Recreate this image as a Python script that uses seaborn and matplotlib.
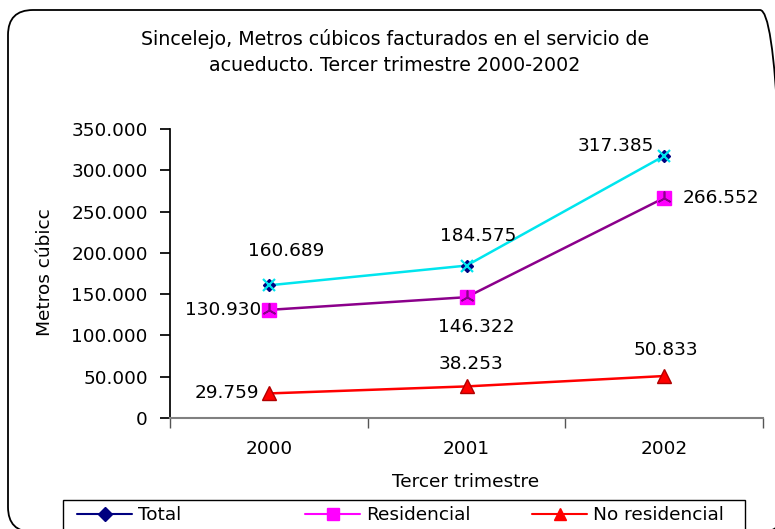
import numpy as np
import pandas as pd
import matplotlib
matplotlib.use("Agg")
import matplotlib.pyplot as plt
import seaborn as sns
from matplotlib.lines import Line2D
from matplotlib.patches import FancyBboxPatch, Rectangle

# ==========================================
# 1. Datos
# ==========================================
anios = ["2000", "2001", "2002"]
total = [160689, 184575, 317385]
residencial = [130930, 146322, 266552]
no_residencial = [29759, 38253, 50833]
y_ticks = [0, 50000, 100000, 150000, 200000, 250000, 300000, 350000]

df = pd.DataFrame({"pos": np.arange(len(anios)), "anio": anios,
                   "Total": total, "Residencial": residencial,
                   "No residencial": no_residencial})

def miles(v):
    return f"{v:,.0f}".replace(",", ".")

# ==========================================
# 2. Estilo
# ==========================================
sns.set_theme(style="white")
plt.rcParams["font.family"] = ["DejaVu Sans"]
plt.rcParams["text.color"] = "black"
plt.rcParams["xtick.color"] = "black"
plt.rcParams["ytick.color"] = "black"
FS = 13.3

fig = plt.figure(figsize=(7.75, 5.29), dpi=100)
ax = fig.add_axes([170 / 775, 111 / 529, 593 / 775, 289 / 529])

# marco redondeado del grafico (en pulgadas)
marco = FancyBboxPatch((0.08, -0.03), 7.77, 5.22, boxstyle="round,pad=0,rounding_size=0.25",
                       transform=fig.dpi_scale_trans, fill=False, lw=1.3, ec="black")
fig.patches.append(marco)

# ==========================================
# 3. Series
# ==========================================
sns.lineplot(data=df, x="pos", y="Total", ax=ax, color="#00e5ee", lw=1.8)
sns.lineplot(data=df, x="pos", y="Residencial", ax=ax, color="#8b008b", lw=1.8)
sns.lineplot(data=df, x="pos", y="No residencial", ax=ax, color="#ff0000", lw=1.8)

# marcadores
ax.plot(df["pos"], df["Total"], ls="none", marker="D", ms=6, color="#000080", zorder=4)
ax.plot(df["pos"], df["Total"], ls="none", marker="x", ms=9, mew=1.6, color="#00e5ee", zorder=5)
ax.plot(df["pos"], df["Residencial"], ls="none", marker="s", ms=10, color="#ff00ff", zorder=4)
ax.plot(df["pos"], df["Residencial"], ls="none", marker=(3, 2, 0), ms=10, mew=1.2, color="#8b008b", zorder=5)
ax.plot(df["pos"], df["No residencial"], ls="none", marker="^", ms=10, color="#ff0000",
        mec="#b00000", zorder=4)

# etiquetas de datos (desplazamiento en pixeles)
desp_total = [(17, 34, "center"), (12, 30, "center"), (-10, 10, "right")]
desp_res = [(-8, 0, "right"), (10, -30, "center"), (18, 0, "left")]
desp_nores = [(-10, 0, "right"), (4, 22, "center"), (2, 26, "center")]
for col, desp in [("Total", desp_total), ("Residencial", desp_res), ("No residencial", desp_nores)]:
    for i, v in enumerate(df[col]):
        dx, dy, ha = desp[i]
        ax.annotate(miles(v), (i, v), xytext=(dx, dy), textcoords="offset pixels",
                    ha=ha, va="center", fontsize=FS, color="black")

# ==========================================
# 4. Ejes
# ==========================================
ax.set_xlim(-0.5, 2.5)
ax.set_ylim(0, 350000)
ax.set_yticks(y_ticks)
ax.set_yticklabels([miles(v) for v in y_ticks], fontsize=FS)
ax.set_xticks(df["pos"])
ax.set_xticklabels(anios, fontsize=FS)
ax.set_xticks([-0.5, 0.5, 1.5, 2.5], minor=True)
ax.tick_params(axis="x", which="major", length=0, pad=16)
ax.tick_params(axis="x", which="minor", length=7, direction="out", color="#555555", bottom=True)
ax.tick_params(axis="y", length=7, direction="out", color="black", left=True, pad=9)
ax.set_xlabel("")
ax.set_ylabel("")
for s in ["top", "right"]:
    ax.spines[s].set_visible(False)
ax.spines["left"].set_color("black")
ax.spines["bottom"].set_color("#808080")
ax.spines["bottom"].set_linewidth(1.5)
ax.patch.set_alpha(0)

fig.text(395 / 775, 1 - 52 / 529, "Sincelejo, Metros cúbicos facturados en el servicio de\nacueducto. Tercer trimestre 2000-2002",
         ha="center", va="center", fontsize=FS + 0.4, linespacing=1.45)
fig.text(45 / 775, 1 - 272 / 529, "Metros cúbicc", rotation=90, ha="center", va="center", fontsize=FS)
fig.text(466 / 775, 1 - 482 / 529, "Tercer trimestre", ha="center", va="center", fontsize=FS)

# ==========================================
# 5. Leyenda (tres columnas de igual ancho, como en Excel)
# ==========================================
fig.patches.append(Rectangle((63 / 775, -0.02), 682 / 775, 1 - 500 / 529 + 0.02,
                             transform=fig.transFigure, fill=False, ec="black", lw=1.0))
handles = [
    Line2D([], [], color="#000080", marker="D", ms=7, lw=1.5),
    Line2D([], [], color="#ff00ff", marker="s", ms=8, lw=1.5),
    Line2D([], [], color="#ff0000", marker="^", ms=8, lw=1.5),
]
nombres = ["Total", "Residencial", "No residencial"]
x_col = [77, 305, 532]
for h, n, x0 in zip(handles, nombres, x_col):
    lg = fig.legend([h], [n], loc="center left", bbox_to_anchor=(x0 / 775, 1 - 515 / 529),
                    frameon=False, fontsize=FS, handlelength=3.0, handletextpad=0.3,
                    borderpad=0, borderaxespad=0)

fig.savefig("out.png", dpi=100)
